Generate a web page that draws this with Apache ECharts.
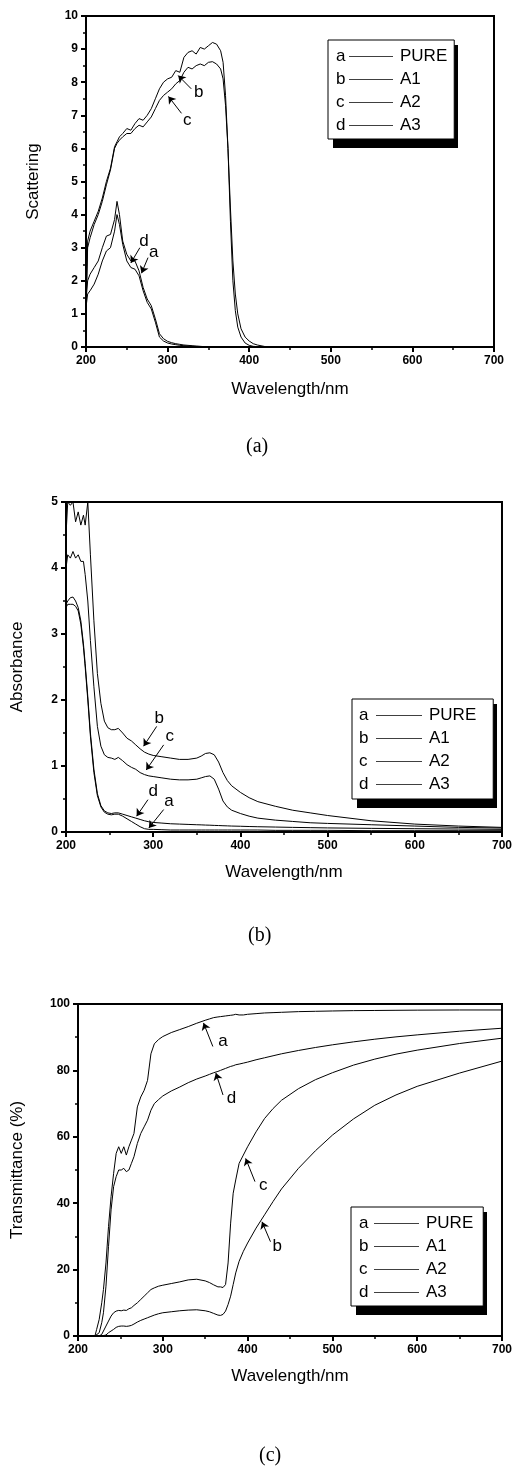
<!DOCTYPE html>
<html>
<head>
<meta charset="utf-8">
<script src="https://cdn.jsdelivr.net/npm/echarts@6/dist/echarts.min.js"></script>
<style>
  html, body { margin: 0; padding: 0; background: #fff; }
  #main { width: 515px; height: 1468px; }
</style>
</head>
<body>
<div id="main"></div>
<script>
var FONT = '"Liberation Sans", Arial, sans-serif';
var names = ['PURE', 'A1', 'A2', 'A3'];
var letters = ['a', 'b', 'c', 'd'];

// (a) scattering
var scatWl = [200,202,205,210,215,220,225,230,235,238,241,245,250,255,260,265,270,275,280,285,290,295,300,305,310,315,320,325,330,335,340,345,350,355,360,365,368,371,374,377,380,383,386,390,395,400,405,410,420,430,450,500,600,700];
var scatPure = [1.2,1.6,1.7,1.9,2.2, 2.6,2.9,3.0,3.5,4.0, 3.7,3.1,2.6,2.4,2.35, 2.15,1.7,1.35,1.15,0.75, 0.3,0.18,0.12,0.09,0.07, 0.05,0.04,0.03,0.02,0.01, 0.01,0,0,0,0, 0,0,0,0,0, 0,0,0,0,0, 0,0,0,0,0, 0,0,0,0];
var scatA1 = [1.0,3.2,3.5,3.8,4.1, 4.5,5.0,5.4,6.05,6.2, 6.35,6.45,6.6,6.55,6.75, 6.9,6.85,7.0,7.2,7.5, 7.8,8.0,8.1,8.15,8.35, 8.3,8.75,8.9,8.95,8.85, 9.05,9.0,9.1,9.2,9.15, 8.95,8.6,7.6,6.0,3.8, 2.0,1.1,0.6,0.3,0.12, 0.05,0.02,0.01,0,0, 0,0,0,0];
var scatA2 = [1.2,3.0,3.3,3.7,4.0, 4.4,4.9,5.35,6.0,6.15, 6.25,6.35,6.45,6.45,6.6, 6.7,6.65,6.8,6.95,7.2, 7.45,7.6,7.7,7.8,7.95, 8.05,8.3,8.45,8.4,8.5, 8.55,8.5,8.6,8.62,8.55, 8.4,8.1,7.3,6.0,4.2, 2.6,1.6,1.0,0.55,0.3, 0.18,0.1,0.06,0.01,0, 0,0,0,0];
var scatA3 = [1.4,2.0,2.2,2.4,2.6, 3.0,3.35,3.4,3.85,4.4, 4.0,3.2,2.8,2.6,2.6, 2.3,1.8,1.45,1.25,0.85, 0.4,0.25,0.17,0.13,0.1, 0.08,0.06,0.05,0.04,0.03, 0.02,0.01,0.01,0,0, 0,0,0,0,0, 0,0,0,0,0, 0,0,0,0,0, 0,0,0,0];

// (b) absorbance
var absWl = [200,202,205,208,211,214,217,220,222,225,228,232,236,240,244,248,252,256,260,265,270,275,280,285,290,295,300,310,320,330,340,350,355,360,365,370,375,380,385,390,400,410,420,440,460,480,500,550,600,650,700];
var absPure = [3.4,3.45,3.45,3.45,3.42, 3.35,3.15,2.8,2.5,2.0, 1.45,0.9,0.55,0.38,0.3, 0.27,0.26,0.27,0.27,0.24, 0.2,0.16,0.12,0.08,0.05, 0.04,0.04,0.035,0.03,0.03, 0.03,0.03,0.03,0.03,0.03, 0.03,0.03,0.03,0.03,0.03, 0.03,0.03,0.03,0.025,0.025, 0.025,0.025,0.02,0.02,0.02, 0.02];
var absA1 = [4.5,5.0,4.95,5.0,4.7, 4.85,4.65,4.8,4.65,5.0, 4.2,3.2,2.4,1.95,1.68, 1.58,1.55,1.55,1.57,1.5, 1.42,1.38,1.32,1.26,1.21, 1.18,1.16,1.14,1.12,1.1, 1.1,1.12,1.15,1.19,1.2, 1.17,1.06,0.9,0.78,0.7, 0.6,0.52,0.46,0.39,0.33, 0.29,0.25,0.17,0.12,0.09, 0.07];
var absA2 = [4.0,4.2,4.15,4.25,4.15, 4.2,4.1,4.1,3.9,3.5, 2.9,2.2,1.6,1.3,1.17, 1.13,1.12,1.1,1.13,1.08, 1.02,0.98,0.95,0.9,0.87, 0.85,0.84,0.82,0.8,0.79, 0.79,0.8,0.82,0.84,0.85, 0.8,0.65,0.47,0.38,0.33, 0.28,0.24,0.21,0.18,0.16, 0.14,0.13,0.11,0.09,0.07, 0.06];
var absA3 = [3.45,3.5,3.55,3.56,3.5, 3.4,3.2,2.85,2.55,2.05, 1.5,0.95,0.58,0.4,0.32, 0.29,0.28,0.29,0.29,0.27, 0.25,0.23,0.21,0.19,0.17, 0.155,0.145,0.135,0.125,0.12, 0.115,0.11,0.108,0.105,0.103, 0.1,0.098,0.095,0.093,0.09, 0.087,0.083,0.08,0.075,0.07, 0.066,0.062,0.055,0.05,0.045, 0.04];

// (c) transmittance
var transWl = [200,210,215,220,222,225,228,230,233,236,239,242,245,248,251,254,257,260,263,266,270,274,278,282,286,290,295,300,310,320,330,340,350,355,360,365,368,371,374,377,380,383,386,390,395,400,410,420,430,440,460,480,500,525,550,575,600,650,700];
var transPure = [0,0,0,0,2, 5,10,14,22,33, 42,49,55,57,55, 57,54.5,57,59,61, 69,72,74,77,85, 88,89.3,90.2,91.4,92.3, 93.2,94.2,95.1,95.5,95.9, 96.1,96.2,96.3,96.4,96.5, 96.6,96.7,96.9,96.7,96.7, 96.9,97.1,97.3,97.4,97.5, 97.7,97.8,97.9,98,98.05, 98.1,98.15,98.2,98.2];
var transA1 = [0,0,0,0,0, 0,0,0,0.3,1, 1.5,2,2.6,2.9,3, 3,2.9,3,3.2,3.6, 4.2,4.7,5.1,5.5,5.9, 6.3,6.7,7,7.3,7.6, 7.8,7.9,7.6,7.3,6.8, 6.3,6.2,6.5,7.5,9.5, 12,15.5,19,22.5,25.5, 28,32.5,36.5,40.5,44.3, 50.5,55.8,60.5,65.4,69.5, 72.6,75.2,79.2,82.8];
var transA2 = [0,0,0,0,0, 0,0.5,1.5,3,4.5, 6,7,7.5,7.7,7.6, 7.8,7.7,8.2,8.5,9.2, 10,11,12,13,14, 14.5,15,15.3,15.8,16.3, 16.9,17.1,16.6,16.1,15.4, 14.8,14.8,14.6,15.5,22, 34,43,47,52,54.5, 57,61.5,65.5,68.5,71, 74.5,77.2,79.3,81.6,83.4, 84.9,86.1,88.1,89.7];
var transA3 = [0,0,0,0,0, 1,4,7,15,27, 38,45,48,50,50, 50.5,49.5,50,52,54, 58,61,63,65,68, 70,71.2,72.3,73.8,75, 76.3,77.4,78.3,78.8,79.3, 79.7,80,80.3,80.6,80.9, 81.2,81.4,81.7,81.9,82.2, 82.5,83.2,83.8,84.4,85, 86,86.9,87.7,88.6,89.4, 90.1,90.7,91.8,92.7];

// arrow notes: [tailX, tailY, tipX, tipY, letterX, letterY], order PURE, A1, A2, A3
var scatNotes = [[276,2.7,268,2.23,283,2.85],[329,7.8,313,8.2,338,7.7],[317,7.06,301,7.57,324,6.86],[266,3.0,255,2.54,271,3.2]];
var absNotes = [[312,0.34,295,0.06,318,0.46],[304,1.6,289,1.3,307,1.72],[312,1.32,292,0.94,319,1.45],[294,0.49,281,0.24,300,0.62]];
var transNotes = [[359,87.2,348,94.3,371,88.7],[427,28.4,417,34.4,435,26.9],[408.7,46.5,397.7,53.5,418.4,45.5],[371,72.6,362.6,79.2,381,71.6]];

var chart = echarts.init(document.getElementById('main'));

function xAx(i, gap) {
  return {
    type: 'value', gridIndex: i, min: 200, max: 700, interval: 100,
    name: 'Wavelength/nm', nameLocation: 'middle', nameGap: gap,
    nameTextStyle: { color: '#000', fontSize: 17, fontFamily: FONT },
    axisLine: { show: true, onZero: false, lineStyle: { color: '#000', width: 2 } },
    axisTick: { show: true, inside: false, length: 5, lineStyle: { color: '#000', width: 2 } },
    minorTick: { show: true, splitNumber: 2, length: 3, lineStyle: { color: '#000', width: 1.5 } },
    axisLabel: { color: '#000', fontWeight: 'bold', fontSize: 12, fontFamily: FONT, margin: 8 },
    splitLine: { show: false }
  };
}
function yAx(i, name, max, step, gap) {
  return {
    type: 'value', gridIndex: i, min: 0, max: max, interval: step,
    name: name, nameLocation: 'middle', nameGap: gap,
    nameTextStyle: { color: '#000', fontSize: 17, fontFamily: FONT },
    axisLine: { show: true, lineStyle: { color: '#000', width: 2 } },
    axisTick: { show: true, inside: false, length: 5, lineStyle: { color: '#000', width: 2 } },
    minorTick: { show: true, splitNumber: 2, length: 3, lineStyle: { color: '#000', width: 1.5 } },
    axisLabel: { color: '#000', fontWeight: 'bold', fontSize: 12, fontFamily: FONT, margin: 8 },
    splitLine: { show: false }
  };
}

// legend boxes: left, top, letter width, rule width, padding [t, r, b, l]
var legBoxes = [
  [328, 40, 13, 44, [8, 7, 5, 2]],
  [352, 699, 17, 46, [8, 17, 6, 1]],
  [351, 1207, 15, 45, [8, 10, 5, 2]]
];
var NAME_W = 47, GAP_W = 7, ROW_H = 18, ROW_GAP = 6;

function legendFor(b) {
  return {
    data: names, orient: 'vertical', left: b[0], top: b[1],
    itemWidth: 0, itemHeight: 0, itemGap: ROW_GAP, padding: b[4],
    backgroundColor: '#fff', borderColor: '#000', borderWidth: 1,
    selectedMode: false, z: 6,
    textStyle: {
      color: '#000', fontSize: 17, fontFamily: FONT,
      rich: {
        l: { width: b[2], fontSize: 17, lineHeight: ROW_H, fontFamily: FONT },
        hr: { width: b[3], height: 0, borderColor: '#000', borderWidth: 0.5 },
        s: { width: GAP_W },
        n: { width: NAME_W, fontSize: 17, lineHeight: ROW_H, fontFamily: FONT }
      }
    },
    formatter: function (n) {
      return '{l|' + letters[names.indexOf(n)] + '}{hr|}{s|}{n|' + n + '}';
    }
  };
}
// solid drop shadow behind each legend box
function shadowFor(b) {
  var p = b[4];
  var w = p[3] + 5 + b[2] + b[3] + GAP_W + NAME_W + p[1];
  var h = p[0] + 4 * ROW_H + 3 * ROW_GAP + p[2];
  return { type: 'rect', z: 5, silent: true, shape: { x: b[0] + 5, y: b[1] + 5, width: w, height: h }, style: { fill: '#000' } };
}
function mkSeries(p, wl, vals, k, note) {
  return {
    type: 'line', name: names[k], xAxisIndex: p, yAxisIndex: p,
    data: wl.map(function (w, i) { return [w, vals[i]]; }),
    showSymbol: false, symbol: 'none', silent: true,
    lineStyle: { color: '#000', width: 1 }, itemStyle: { color: '#000' },
    markLine: {
      silent: true, symbol: ['none', 'arrow'], symbolSize: 7,
      label: { show: false },
      lineStyle: { color: '#000', width: 1, type: 'solid' },
      data: [[{ coord: [note[0], note[1]] }, { coord: [note[2], note[3]] }]]
    },
    markPoint: {
      silent: true, symbol: 'circle', symbolSize: 1,
      itemStyle: { color: 'rgba(0,0,0,0)' },
      label: { show: true, position: 'inside', formatter: letters[k], color: '#000', fontSize: 17, fontFamily: FONT },
      data: [{ coord: [note[4], note[5]] }]
    }
  };
}

var series = [];
[[scatPure, scatA1, scatA2, scatA3], [absPure, absA1, absA2, absA3], [transPure, transA1, transA2, transA3]].forEach(function (set, p) {
  var wl = [scatWl, absWl, transWl][p];
  var notes = [scatNotes, absNotes, transNotes][p];
  set.forEach(function (vals, k) { series.push(mkSeries(p, wl, vals, k, notes[k])); });
});

var capStyle = { color: '#000', fontSize: 20, fontWeight: 'normal', fontFamily: '"Liberation Serif", "Times New Roman", serif' };
var option = {
  animation: false,
  backgroundColor: '#fff',
  title: [
    { text: '(a)', left: 246, top: 437, textStyle: capStyle, padding: 0 },
    { text: '(b)', left: 248, top: 926, textStyle: capStyle, padding: 0 },
    { text: '(c)', left: 259, top: 1446, textStyle: capStyle, padding: 0 }
  ],
  grid: [
    { left: 86, top: 16, width: 408, height: 331, show: true, borderColor: '#000', borderWidth: 2 },
    { left: 66, top: 502, width: 436, height: 330, show: true, borderColor: '#000', borderWidth: 2 },
    { left: 78, top: 1004, width: 427, height: 332, show: true, borderColor: '#000', borderWidth: 2 }
  ],
  xAxis: [xAx(0, 34), xAx(1, 32), xAx(2, 32)],
  yAxis: [yAx(0, 'Scattering', 10, 1, 44), yAx(1, 'Absorbance', 5, 1, 40), yAx(2, 'Transmittance (%)', 100, 20, 52)],
  legend: legBoxes.map(legendFor),
  graphic: legBoxes.map(shadowFor),
  series: series
};
chart.setOption(option);
</script>
</body>
</html>
